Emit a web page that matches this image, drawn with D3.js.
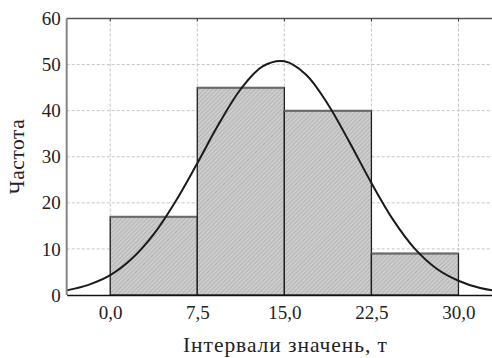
<!DOCTYPE html>
<html>
<head>
<meta charset="utf-8">
<script src="https://cdnjs.cloudflare.com/ajax/libs/d3/7.8.5/d3.min.js"></script>
<style>
	body { margin: 0; background: #fff; }
	svg text { font-family: "Liberation Serif", "Times New Roman", "DejaVu Serif", serif; fill: #222; }
	.tick text { font-size: 19px; }
	.title { font-size: 21.5px; }
</style>
</head>
<body>
<svg id="hist" width="492" height="358"></svg>
<script>
// histogram bins (interval starts / ends) and counts
var binStart = [0, 7.5, 15, 22.5];
var binEnd = [7.5, 15, 22.5, 30];
var counts = [17, 45, 40, 9];

// fitted normal curve
var curveX = [-3.75, -1.875, 0, 1.875, 3.75, 5.625, 7.5, 9.375, 11.25, 13.125, 15, 16.875, 18.75, 20.625, 22.5, 24.375, 26.25, 28.125, 30, 31.875, 33.75];
var curveY = [1.0, 2.2, 4.3, 7.9, 13.2, 20.3, 28.6, 37.2, 44.7, 49.6, 50.7, 47.8, 41.4, 33.1, 24.3, 16.3, 10.0, 5.7, 3.1, 1.5, 0.7];

var xTicks = [0, 7.5, 15, 22.5, 30];
var yTicks = [0, 10, 20, 30, 40, 50, 60];

var svg = d3.select("svg#hist"),
	plotL = 66.7, plotT = 18.5, plotB = 295, plotR = 502;

var x = d3.scaleLinear().domain([-3.75, 33.75]).range([plotL, plotR]);
var y = d3.scaleLinear().domain([0, 60]).range([plotB, plotT]);

// hatch pattern for bars
var defs = svg.append("defs");
var pat = defs.append("pattern")
	.attr("id", "hatch")
	.attr("patternUnits", "userSpaceOnUse")
	.attr("width", 3).attr("height", 3)
	.attr("patternTransform", "rotate(45)");
pat.append("rect").attr("width", 3).attr("height", 3).attr("fill", "#cdcdcd");
pat.append("line").attr("x1", 0).attr("y1", 0).attr("x2", 0).attr("y2", 3)
	.attr("stroke", "#9c9c9c").attr("stroke-width", 1);

defs.append("clipPath").attr("id", "plotclip")
	.append("rect").attr("x", plotL).attr("y", plotT).attr("width", plotR - plotL).attr("height", plotB - plotT);

// grid
svg.append("g").selectAll("line")
	.data(yTicks.filter(function(d) { return d > 0 && d < 60; }))
	.enter().append("line")
	.attr("x1", plotL).attr("x2", plotR)
	.attr("y1", function(d) { return y(d); }).attr("y2", function(d) { return y(d); })
	.attr("stroke", "#c4c4c4").attr("stroke-dasharray", "3,2");
svg.append("g").selectAll("line")
	.data(xTicks)
	.enter().append("line")
	.attr("x1", function(d) { return x(d); }).attr("x2", function(d) { return x(d); })
	.attr("y1", plotT).attr("y2", plotB)
	.attr("stroke", "#c4c4c4").attr("stroke-dasharray", "3,2");

// bars
var bars = svg.append("g").selectAll("g")
	.data(counts)
	.enter().append("g");
bars.append("rect")
	.attr("x", function(d, i) { return x(binStart[i]); })
	.attr("y", function(d) { return y(d); })
	.attr("width", function(d, i) { return x(binEnd[i]) - x(binStart[i]); })
	.attr("height", function(d) { return y(0) - y(d); })
	.attr("fill", "url(#hatch)")
	.attr("stroke", "#1e1e1e")
	.attr("stroke-width", 1.3);
bars.append("line")
	.attr("x1", function(d, i) { return x(binStart[i]); })
	.attr("x2", function(d, i) { return x(binEnd[i]); })
	.attr("y1", function(d) { return y(d); })
	.attr("y2", function(d) { return y(d); })
	.attr("stroke", "#6a6a6a")
	.attr("stroke-width", 2);

// normal curve
var line = d3.line()
	.x(function(d, i) { return x(curveX[i]); })
	.y(function(d) { return y(d); })
	.curve(d3.curveCatmullRom);
svg.append("path")
	.datum(curveY)
	.attr("clip-path", "url(#plotclip)")
	.attr("d", line)
	.attr("fill", "none")
	.attr("stroke", "#1a1a1a")
	.attr("stroke-width", 2);

// frame
svg.append("line").attr("x1", plotL).attr("x2", plotR).attr("y1", plotT).attr("y2", plotT)
	.attr("stroke", "#555").attr("stroke-width", 1.5);
svg.append("line").attr("x1", plotL).attr("x2", plotL).attr("y1", plotT).attr("y2", plotB)
	.attr("stroke", "#858585").attr("stroke-width", 2);
svg.append("g").selectAll("line")
	.data(xTicks)
	.enter().append("line")
	.attr("x1", function(d) { return x(d); }).attr("x2", function(d) { return x(d); })
	.attr("y1", plotT).attr("y2", plotT + 3)
	.attr("stroke", "#333");

// axes
var fmt = function(d) { return d.toFixed(1).replace(".", ","); };
var xAxis = svg.append("g")
	.attr("transform", "translate(0," + plotB + ")")
	.call(d3.axisBottom(x).tickValues(xTicks).tickSize(0).tickPadding(11).tickFormat(fmt));
xAxis.attr("font-family", null).attr("font-size", null);
xAxis.select(".domain").attr("stroke", "#111").attr("stroke-width", 1.6);

var yAxis = svg.append("g")
	.attr("transform", "translate(" + plotL + ",0)")
	.call(d3.axisLeft(y).tickValues(yTicks).tickSize(0).tickPadding(6));
yAxis.attr("font-family", null).attr("font-size", null);
yAxis.select(".domain").remove();

// titles
svg.append("text")
	.attr("class", "title")
	.attr("x", 285).attr("y", 352)
	.attr("text-anchor", "middle")
	.attr("textLength", 204)
	.attr("lengthAdjust", "spacing")
	.text("Інтервали значень, т");
svg.append("text")
	.attr("class", "title")
	.attr("transform", "translate(24," + (plotT + plotB) / 2 + ") rotate(-90)")
	.attr("text-anchor", "middle")
	.attr("textLength", 75)
	.attr("lengthAdjust", "spacing")
	.text("Частота");
</script>
</body>
</html>
